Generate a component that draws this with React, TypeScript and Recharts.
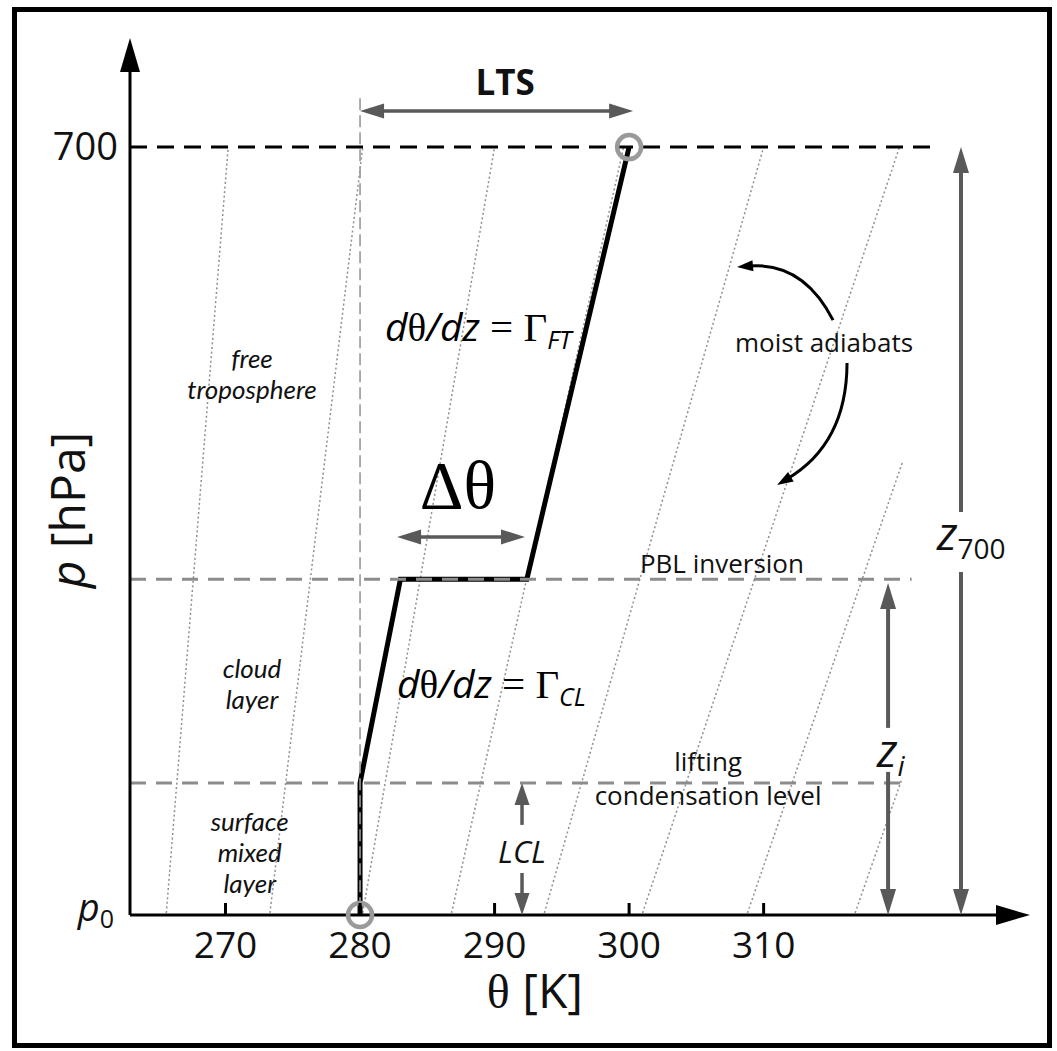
import React from 'react'
import { ComposedChart, Line, XAxis, YAxis, ReferenceLine, ReferenceDot } from 'recharts'

// axes
const thetaTicks = [270, 280, 290, 300, 310]
const pressureTicks = [700, 1000]
const THETA_DOMAIN: [number, number] = [262.9, 329.8]
const P_DOMAIN: [number, number] = [657.4, 1000]

// levels [hPa]
const P0 = 1000
const P700 = 700
const P_PBL = 868.8
const P_LCL = 948.4

// the sounding: theta [K] against pressure [hPa]
const profileTheta = [280, 280, 283.0, 292.4, 300.0]
const profilePressure = [1000, 948.4, 868.8, 868.8, 700]

// moist adiabats, bottom and top end of each dotted line
const adiabatThetaBottom = [265.6, 273.3, 280.2, 286.8, 293.7, 301.0, 308.8, 316.8]
const adiabatPressureBottom = [999.2, 999.2, 999.2, 999.2, 999.2, 999.2, 999.2, 999.2]
const adiabatThetaTop = [270.2, 280.2, 290.0, 299.6, 310.0, 320.1, 320.3, 320.3]
const adiabatPressureTop = [700, 700, 700, 700, 700, 700, 823.4, 946.5]

const W = 1057
const H = 1051
const SANS = '"Open Sans", "Noto Sans", sans-serif'
const NOTE = 'Lato, "Open Sans", sans-serif'
const SERIF = '"Liberation Serif", "DejaVu Serif", serif'
const INK = '#111'
const ARROW = '#595959'
const DASH_GREY = '#8c8c8c'

type Pt = [number, number]

function arrowShape(color: string, width: number, headLen: number, headW: number, both: boolean, bend = 0) {
  return (props: any) => {
    const { x1, y1, x2, y2 } = props
    const dx = x2 - x1
    const dy = y2 - y1
    const len = Math.hypot(dx, dy) || 1
    const qx = (x1 + x2) / 2 - (dy / len) * bend
    const qy = (y1 + y2) / 2 + (dx / len) * bend
    const head = (tx: number, ty: number, fx: number, fy: number) => {
      const l = Math.hypot(tx - fx, ty - fy) || 1
      const ax = (tx - fx) / l
      const ay = (ty - fy) / l
      const bx = tx - ax * headLen
      const by = ty - ay * headLen
      const px = (-ay * headW) / 2
      const py = (ax * headW) / 2
      return {
        pts: `${tx},${ty} ${bx + px},${by + py} ${bx - px},${by - py}`,
        sx: tx - ax * headLen * 0.7,
        sy: ty - ay * headLen * 0.7,
      }
    }
    const e = head(x2, y2, qx, qy)
    const s = both ? head(x1, y1, qx, qy) : null
    const sx = s ? s.sx : x1
    const sy = s ? s.sy : y1
    const d = bend ? `M${sx},${sy} Q${qx},${qy} ${e.sx},${e.sy}` : `M${sx},${sy} L${e.sx},${e.sy}`
    return (
      <g>
        <path d={d} fill="none" stroke={color} strokeWidth={width} />
        <polygon points={e.pts} fill={color} />
        {s && <polygon points={s.pts} fill={color} />}
      </g>
    )
  }
}

function ThetaTick(props: any) {
  const { x, y, payload } = props
  return (
    <g>
      <line x1={x} x2={x} y1={y} y2={y - 12} stroke="#000" strokeWidth={3} />
      <text x={x} y={y + 43} textAnchor="middle" fontFamily={SANS} fontSize={37} fill={INK}>
        {payload.value}
      </text>
    </g>
  )
}

function PressureTick(props: any) {
  const { x, y, payload } = props
  if (payload.value === P0) {
    return (
      <text x={x - 16} y={y + 6} textAnchor="end" fontFamily={SANS} fontSize={38} fill={INK}>
        <tspan fontStyle="italic">p</tspan>
        <tspan fontSize={25} dy={7}>0</tspan>
      </text>
    )
  }
  return (
    <text x={x - 12} y={y + 13} textAnchor="end" fontFamily={SANS} fontSize={38} fill={INK}>
      {payload.value}
    </text>
  )
}

const stacked = (lines: string[], size: number, italic: boolean, lh: number, font = NOTE) => (p: any) => (
  <g>
    {lines.map((l, i) => (
      <text
        key={i}
        x={p.cx}
        y={p.cy + i * lh}
        textAnchor="middle"
        fontFamily={font}
        fontSize={size}
        fontStyle={italic ? 'italic' : 'normal'}
        fill={INK}
      >
        {l}
      </text>
    ))}
  </g>
)

const gradient = (sub: string) => (p: any) => (
  <text x={p.cx} y={p.cy} fontSize={39} fill="#000">
    <tspan fontFamily={SANS} fontStyle="italic">d</tspan>
    <tspan fontFamily={SERIF}>θ</tspan>
    <tspan fontFamily={SANS} fontStyle="italic">/dz</tspan>
    <tspan fontFamily={SERIF} fontSize={41}> = Γ</tspan>
    <tspan fontFamily={SANS} fontStyle="italic" fontSize={25} dy={8}>{sub}</tspan>
  </text>
)

const zLabel = (sub: string) => (p: any) => (
  <text x={p.cx} y={p.cy} fontFamily={SANS} fontSize={46} fill={INK}>
    <tspan fontStyle="italic">z</tspan>
    <tspan fontSize={28} dy={9} fontStyle={sub === 'i' ? 'italic' : 'normal'}>{sub}</tspan>
  </text>
)

const deltaTheta = (p: any) => (
  <text x={p.cx} y={p.cy} textAnchor="middle" fontFamily={SERIF} fontSize={68} fill="#000">
    Δθ
  </text>
)

const lts = (p: any) => (
  <text x={p.cx} y={p.cy} textAnchor="middle" fontFamily={SANS} fontWeight="bold" fontSize={35} fill={INK}>
    LTS
  </text>
)

const xTitle = (p: any) => (
  <text x={p.cx} y={p.cy} textAnchor="middle" fontSize={48} fill={INK}>
    <tspan fontFamily={SERIF}>θ</tspan>
    <tspan fontFamily={SANS}> [K]</tspan>
  </text>
)

const yTitle = (p: any) => (
  <text x={p.cx} y={p.cy} transform={`rotate(-90 ${p.cx} ${p.cy})`} textAnchor="middle" fontFamily={SANS} fontSize={48} fill={INK}>
    <tspan fontStyle="italic">p</tspan>
    <tspan> [hPa]</tspan>
  </text>
)

// annotation anchors (theta, pressure)
const notes: { at: Pt; shape: (p: any) => React.ReactElement }[] = [
  { at: [271.97, 786.3], shape: stacked(['free', 'troposphere'], 26, true, 31) },
  { at: [271.97, 907.6], shape: stacked(['cloud', 'layer'], 26, true, 31) },
  { at: [271.8, 967.0], shape: stacked(['surface', 'mixed', 'layer'], 26, true, 31) },
  { at: [306.9, 866.4], shape: stacked(['PBL inversion'], 26, false, 0, SANS) },
  { at: [305.87, 943.8], shape: stacked(['lifting', 'condensation level'], 26, false, 34, SANS) },
  { at: [314.49, 780.1], shape: stacked(['moist adiabats'], 26, false, 0, SANS) },
  { at: [292.04, 979.7], shape: stacked(['LCL'], 31, true, 0, SANS) },
  { at: [281.86, 775.8], shape: gradient('FT') },
  { at: [282.75, 915.2], shape: gradient('CL') },
  { at: [287.28, 841.0], shape: deltaTheta },
  { at: [290.78, 679.7], shape: lts },
  { at: [318.43, 942.2], shape: zLabel('i') },
  { at: [322.89, 857.4], shape: zLabel('700') },
  { at: [293.0, 1036.3], shape: xTitle },
  { at: [259.56, 841.8], shape: yTitle },
]

// straight dimension arrows: from, to, double headed
const dimArrows: { from: Pt; to: Pt; both: boolean; w: number; hl: number; hw: number }[] = [
  { from: [280, 685.9], to: [300.3, 685.9], both: true, w: 3.5, hl: 24, hw: 15 },
  { from: [282.75, 852.3], to: [292.26, 852.3], both: true, w: 3.5, hl: 24, hw: 15 },
  { from: [292.04, 964.8], to: [292.04, P_LCL], both: false, w: 3.5, hl: 22, hw: 15 },
  { from: [292.04, 983.6], to: [292.04, P0], both: false, w: 3.5, hl: 22, hw: 15 },
  { from: [319.25, 926.9], to: [319.25, 870.3], both: false, w: 4, hl: 26, hw: 16 },
  { from: [319.25, 944.1], to: [319.25, P0], both: false, w: 4, hl: 26, hw: 16 },
  { from: [324.67, 842.6], to: [324.67, P700], both: false, w: 4, hl: 26, hw: 16 },
  { from: [324.67, 866.0], to: [324.67, P0], both: false, w: 4, hl: 26, hw: 16 },
]

// curved pointers from the "moist adiabats" note
const curvedFrom: Pt[] = [[315.16, 767.6], [316.2, 784.4]]
const curvedTo: Pt[] = [[308.02, 746.9], [311.0, 832.0]]
const curvedBend = [37, -40]

export default function App() {
  const profile = profileTheta.map((theta, i) => ({ theta, p: profilePressure[i] }))
  return (
    <div style={{ position: 'absolute', left: 0, top: 0, width: W, height: H, background: '#fff' }}>
      <ComposedChart width={W} height={H} data={profile} margin={{ top: 38, right: 27, bottom: 0, left: 0 }}>
        <XAxis
          type="number"
          dataKey="theta"
          domain={THETA_DOMAIN}
          ticks={thetaTicks}
          interval={0}
          allowDataOverflow
          axisLine={false}
          tickLine={false}
          tickSize={0}
          tickMargin={0}
          height={136}
          tick={ThetaTick}
        />
        <YAxis
          type="number"
          dataKey="p"
          domain={P_DOMAIN}
          reversed
          ticks={pressureTicks}
          interval={0}
          allowDataOverflow
          axisLine={false}
          tickLine={false}
          tickSize={0}
          tickMargin={0}
          width={130}
          tick={PressureTick}
        />
        {adiabatThetaBottom.map((t, i) => (
          <ReferenceLine
            key={`ad${i}`}
            segment={[
              { x: t, y: adiabatPressureBottom[i] },
              { x: adiabatThetaTop[i], y: adiabatPressureTop[i] },
            ]}
            stroke="#8f8f8f"
            strokeWidth={1.5}
            strokeDasharray="2 2.6"
            ifOverflow="visible"
          />
        ))}
        <Line
          type="linear"
          dataKey="p"
          stroke="#000"
          strokeWidth={5}
          strokeLinejoin="miter"
          dot={false}
          isAnimationActive={false}
        />
        <ReferenceLine
          segment={[{ x: 280, y: 680.9 }, { x: 280, y: P0 }]}
          stroke="#999"
          strokeWidth={1.6}
          strokeDasharray="12 5"
          ifOverflow="visible"
        />
        <ReferenceLine
          segment={[{ x: THETA_DOMAIN[0], y: P_PBL }, { x: 321.0, y: P_PBL }]}
          stroke={DASH_GREY}
          strokeWidth={3}
          strokeDasharray="16 10"
          ifOverflow="visible"
        />
        <ReferenceLine
          segment={[{ x: THETA_DOMAIN[0], y: P_LCL }, { x: 320.66, y: P_LCL }]}
          stroke={DASH_GREY}
          strokeWidth={3}
          strokeDasharray="16 10"
          ifOverflow="visible"
        />
        <ReferenceLine
          segment={[{ x: THETA_DOMAIN[0], y: P700 }, { x: 322.4, y: P700 }]}
          stroke="#000"
          strokeWidth={3}
          strokeDasharray="17 10"
          ifOverflow="visible"
        />
        <ReferenceLine
          segment={[{ x: THETA_DOMAIN[0], y: P0 }, { x: THETA_DOMAIN[1], y: P0 }]}
          shape={arrowShape('#000', 3, 34, 20, false)}
          ifOverflow="visible"
        />
        <ReferenceLine
          segment={[{ x: THETA_DOMAIN[0], y: P0 }, { x: THETA_DOMAIN[0], y: P_DOMAIN[0] }]}
          shape={arrowShape('#000', 3, 34, 20, false)}
          ifOverflow="visible"
        />
        {dimArrows.map((a, i) => (
          <ReferenceLine
            key={`da${i}`}
            segment={[{ x: a.from[0], y: a.from[1] }, { x: a.to[0], y: a.to[1] }]}
            shape={arrowShape(ARROW, a.w, a.hl, a.hw, a.both)}
            ifOverflow="visible"
          />
        ))}
        {curvedFrom.map((f, i) => (
          <ReferenceLine
            key={`ca${i}`}
            segment={[{ x: f[0], y: f[1] }, { x: curvedTo[i][0], y: curvedTo[i][1] }]}
            shape={arrowShape('#000', 3, 16, 11, false, curvedBend[i])}
            ifOverflow="visible"
          />
        ))}
        <ReferenceDot x={280} y={P0} r={12} fill="none" stroke="#9a9a9a" strokeWidth={4.5} ifOverflow="visible" />
        <ReferenceDot x={300} y={P700} r={12} fill="none" stroke="#9a9a9a" strokeWidth={4.5} ifOverflow="visible" />
        {notes.map((n, i) => (
          <ReferenceDot key={`n${i}`} x={n.at[0]} y={n.at[1]} r={0} shape={n.shape} ifOverflow="visible" />
        ))}
      </ComposedChart>
      <div
        style={{
          position: 'absolute',
          left: 12,
          top: 7,
          width: 1040,
          height: 1041,
          border: '5px solid #000',
          boxSizing: 'border-box',
          pointerEvents: 'none',
        }}
      />
    </div>
  )
}
